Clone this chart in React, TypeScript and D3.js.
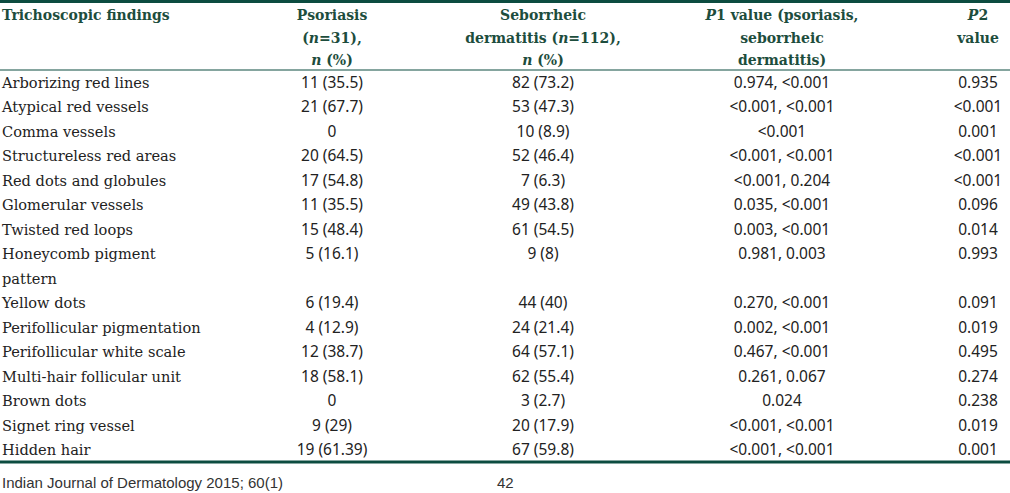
import React from "react";
import * as d3 from "d3";

const findings = [
  ["Arborizing red lines"],
  ["Atypical red vessels"],
  ["Comma vessels"],
  ["Structureless red areas"],
  ["Red dots and globules"],
  ["Glomerular vessels"],
  ["Twisted red loops"],
  ["Honeycomb pigment", "pattern"],
  ["Yellow dots"],
  ["Perifollicular pigmentation"],
  ["Perifollicular white scale"],
  ["Multi-hair follicular unit"],
  ["Brown dots"],
  ["Signet ring vessel"],
  ["Hidden hair"],
];
const psoriasis = ["11 (35.5)", "21 (67.7)", "0", "20 (64.5)", "17 (54.8)", "11 (35.5)", "15 (48.4)", "5 (16.1)", "6 (19.4)", "4 (12.9)", "12 (38.7)", "18 (58.1)", "0", "9 (29)", "19 (61.39)"];
const seborrheic = ["82 (73.2)", "53 (47.3)", "10 (8.9)", "52 (46.4)", "7 (6.3)", "49 (43.8)", "61 (54.5)", "9 (8)", "44 (40)", "24 (21.4)", "64 (57.1)", "62 (55.4)", "3 (2.7)", "20 (17.9)", "67 (59.8)"];
const p1 = ["0.974, <0.001", "<0.001, <0.001", "<0.001", "<0.001, <0.001", "<0.001, 0.204", "0.035, <0.001", "0.003, <0.001", "0.981, 0.003", "0.270, <0.001", "0.002, <0.001", "0.467, <0.001", "0.261, 0.067", "0.024", "<0.001, <0.001", "<0.001, <0.001"];
const p2 = ["0.935", "<0.001", "0.001", "<0.001", "<0.001", "0.096", "0.014", "0.993", "0.091", "0.019", "0.495", "0.274", "0.238", "0.019", "0.001"];

// header lines: segments [text, italic]
type Seg = [string, boolean];
const headers: { key: string; lines: Seg[][] }[] = [
  { key: "finding", lines: [[["Trichoscopic findings", false]]] },
  { key: "pso", lines: [[["Psoriasis", false]], [["(", false], ["n", true], ["=31),", false]], [["n", true], [" (%)", false]]] },
  { key: "seb", lines: [[["Seborrheic", false]], [["dermatitis (", false], ["n", true], ["=112),", false]], [["n", true], [" (%)", false]]] },
  { key: "p1", lines: [[["P", true], ["1 value (psoriasis,", false]], [["seborrheic", false]], [["dermatitis)", false]]] },
  { key: "p2", lines: [[["P", true], ["2", false]], [["value", false]]] },
];
const footerLeft = "Indian Journal of Dermatology 2015; 60(1)";
const footerPage = "42";

const W = 1010;
const H = 493;
const GREEN = "#0c4c40";
const HEAD = "#1d4d3d";
const BODY = "#222";

export default function App() {
  const colX = d3.scaleOrdinal<string, number>()
    .domain(["finding", "pso", "seb", "p1", "p2"])
    .range([2, 332, 543, 782, 978]);
  const headY = d3.scaleLinear().domain([0, 2]).range([20, 65]);
  const lineY = d3.scaleLinear().domain([0, 15]).range([87.5, 455]);

  const rowLine: number[] = [];
  let li = 0;
  findings.forEach((f) => {
    rowLine.push(li);
    li += f.length;
  });

  const serif = "'DejaVu Serif', 'Liberation Serif', serif";
  const sans = "'Noto Sans', 'Open Sans', sans-serif";

  return (
    <svg width={W} height={H} style={{ position: "absolute", left: 0, top: 0, background: "#fff" }}>
      <rect x={0} y={0} width={W} height={H} fill="#fff" />
      <line x1={0} x2={W} y1={1.5} y2={1.5} stroke={GREEN} strokeWidth={3} />
      {headers.map((h) =>
        h.lines.map((segs, i) => (
          <text
            key={h.key + i}
            x={colX(h.key)}
            y={headY(i)}
            textAnchor={h.key === "finding" ? "start" : "middle"}
            fontFamily={serif}
            fontWeight="bold"
            fontSize={14}
            fill={HEAD}
          >
            {segs.map((s, j) => (
              <tspan key={j} fontStyle={s[1] ? "italic" : "normal"}>{s[0]}</tspan>
            ))}
          </text>
        ))
      )}
      <line x1={0} x2={W} y1={70} y2={70} stroke={GREEN} strokeWidth={1.2} />
      {findings.map((f, r) => (
        <g key={r}>
          {f.map((t, k) => (
            <text key={k} x={colX("finding")} y={lineY(rowLine[r] + k)} fontFamily={serif} fontSize={14.6} fill={BODY}>{t}</text>
          ))}
          <text x={colX("pso")} y={lineY(rowLine[r])} textAnchor="middle" fontFamily={sans} fontSize={15.5} fill={BODY}>{psoriasis[r]}</text>
          <text x={colX("seb")} y={lineY(rowLine[r])} textAnchor="middle" fontFamily={sans} fontSize={15.5} fill={BODY}>{seborrheic[r]}</text>
          <text x={colX("p1")} y={lineY(rowLine[r])} textAnchor="middle" fontFamily={sans} fontSize={15.5} fill={BODY}>{p1[r]}</text>
          <text x={colX("p2")} y={lineY(rowLine[r])} textAnchor="middle" fontFamily={sans} fontSize={15.5} fill={BODY}>{p2[r]}</text>
        </g>
      ))}
      <line x1={0} x2={W} y1={462} y2={462} stroke={GREEN} strokeWidth={3} />
      <text x={2} y={488} fontFamily="'Liberation Sans', Arial, sans-serif" fontSize={15} fill="#333">{footerLeft}</text>
      <text x={497} y={488} fontFamily="'Liberation Sans', Arial, sans-serif" fontSize={15} fill="#333">{footerPage}</text>
    </svg>
  );
}
